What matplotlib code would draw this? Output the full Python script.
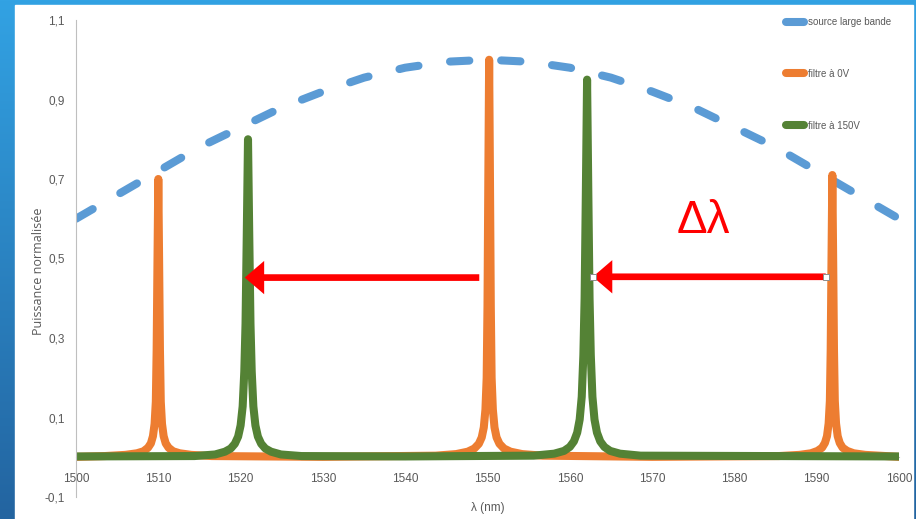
import matplotlib
matplotlib.use('Agg')
import matplotlib.pyplot as plt
import numpy as np
from matplotlib.patches import Rectangle

# broadband source (normalised)
src_x = [1500, 1505, 1510, 1515, 1520, 1525, 1530, 1535, 1540, 1545, 1550,
         1555, 1560, 1565, 1570, 1575, 1580, 1585, 1590, 1595, 1600]
src_y = [0.60, 0.66, 0.72, 0.78, 0.83, 0.88, 0.92, 0.955, 0.98, 0.995, 1.0,
         0.995, 0.98, 0.955, 0.92, 0.88, 0.83, 0.78, 0.72, 0.66, 0.60]

# filter at 0 V
f0_x = [1500,
        1503.5, 1506.0, 1507.4, 1508.2, 1508.75, 1509.1, 1509.35, 1509.55, 1509.7, 1509.8, 1509.9,
        1510.0,
        1510.1, 1510.2, 1510.3, 1510.45, 1510.65, 1510.9, 1511.25, 1511.8, 1512.6, 1514.0, 1516.5,
        1530,
        1543.7, 1546.2, 1547.6, 1548.4, 1548.95, 1549.3, 1549.55, 1549.75, 1549.9, 1550.0, 1550.1,
        1550.2,
        1550.3, 1550.4, 1550.5, 1550.65, 1550.85, 1551.1, 1551.45, 1552.0, 1552.8, 1554.2, 1556.7,
        1570,
        1585.4, 1587.9, 1589.3, 1590.1, 1590.65, 1591.0, 1591.25, 1591.45, 1591.6, 1591.7, 1591.8,
        1591.9,
        1592.0, 1592.1, 1592.2, 1592.35, 1592.55, 1592.8, 1593.15, 1593.7, 1594.5, 1595.9, 1598.4,
        1600]
f0_y = [0.001,
        0.003, 0.006, 0.010, 0.015, 0.024, 0.035, 0.053, 0.084, 0.14, 0.27, 0.49,
        0.70,
        0.49, 0.27, 0.14, 0.084, 0.053, 0.035, 0.024, 0.015, 0.010, 0.006, 0.003,
        0.001,
        0.004, 0.008, 0.014, 0.022, 0.034, 0.05, 0.075, 0.12, 0.2, 0.38, 0.7,
        1.0,
        0.7, 0.38, 0.2, 0.12, 0.075, 0.05, 0.034, 0.022, 0.014, 0.008, 0.004,
        0.001,
        0.003, 0.006, 0.010, 0.016, 0.024, 0.036, 0.053, 0.085, 0.142, 0.27, 0.50,
        0.71,
        0.50, 0.27, 0.142, 0.085, 0.053, 0.036, 0.024, 0.016, 0.010, 0.006, 0.003,
        0.001]

# filter at 150 V
f150_x = [1500,
          1514.4, 1516.9, 1518.1, 1518.8, 1519.3, 1519.7, 1520.0, 1520.25, 1520.45, 1520.6, 1520.75,
          1520.9,
          1521.05, 1521.2, 1521.35, 1521.55, 1521.8, 1522.1, 1522.5, 1523.0, 1523.7, 1524.9, 1527.4,
          1540,
          1555.6, 1558.1, 1559.3, 1560.0, 1560.5, 1560.9, 1561.2, 1561.45, 1561.65, 1561.8, 1561.95,
          1562.1,
          1562.25, 1562.4, 1562.55, 1562.75, 1563.0, 1563.3, 1563.7, 1564.2, 1564.9, 1566.1, 1568.6,
          1600]
f150_y = [0.002,
          0.003, 0.007, 0.014, 0.022, 0.034, 0.052, 0.08, 0.128, 0.216, 0.336, 0.56,
          0.80,
          0.56, 0.336, 0.216, 0.128, 0.08, 0.052, 0.034, 0.022, 0.014, 0.007, 0.003,
          0.002,
          0.004, 0.009, 0.016, 0.026, 0.04, 0.062, 0.095, 0.152, 0.257, 0.40, 0.665,
          0.95,
          0.665, 0.40, 0.257, 0.152, 0.095, 0.062, 0.04, 0.026, 0.016, 0.009, 0.004,
          0.002]

# shift arrows (tail -> head)
arrows = [((1549.0, 0.452), (1520.5, 0.452)),
          ((1591.1, 0.454), (1562.8, 0.454))]

xticks = list(range(1500, 1601, 10))
yticks = [-0.1, 0.1, 0.3, 0.5, 0.7, 0.9, 1.1]
ylabels = ['-0,1', '0,1', '0,3', '0,5', '0,7', '0,9', '1,1']

narrow = ['Liberation Sans Narrow', 'Liberation Sans', 'DejaVu Sans']
grey = '#595959'

fig = plt.figure(figsize=(9.16, 5.19), dpi=100)

# slide background
bg = fig.add_axes([0, 0, 1, 1], zorder=-10)
grad = np.linspace(0, 1, 256).reshape(-1, 1)
cmap = matplotlib.colors.LinearSegmentedColormap.from_list('bg', ['#32a2e3', '#2364a0'])
bg.imshow(grad, aspect='auto', cmap=cmap, extent=[0, 1, 0, 1])
bg.add_patch(Rectangle((15/916, 0), (913-15)/916, (519-5)/519, color='white',
                       transform=bg.transAxes))
bg.set_axis_off()

ax = fig.add_axes([76/916, 1-497/519, (899-76)/916, (497-20)/519])
ax.patch.set_alpha(0)

# spines first (set_position resets the tick labels)
for s in ['top', 'right']:
    ax.spines[s].set_visible(False)
ax.spines['bottom'].set_position(('data', 0))
for s in ['left', 'bottom']:
    ax.spines[s].set_color('#bfbfbf')
    ax.spines[s].set_linewidth(0.8)
ax.spines['bottom'].set_zorder(0)

lw = 5.8
b, = ax.plot(src_x, src_y, color='#5b9bd5', lw=lw, dash_capstyle='round',
             label='source large bande')
b.set_dashes((2.4, 3.95))
o, = ax.plot(f0_x, f0_y, color='#ed7d31', lw=lw, solid_joinstyle='round',
             solid_capstyle='round', label='filtre à 0V')
g, = ax.plot(f150_x, f150_y, color='#548235', lw=lw, solid_joinstyle='round',
             solid_capstyle='round', label='filtre à 150V')

for (tail, head) in arrows:
    ax.annotate('', xy=head, xytext=tail,
                arrowprops=dict(arrowstyle='simple,head_length=14,head_width=24,tail_width=4.8',
                                mutation_scale=1, color='#ff0000', lw=0,
                                shrinkA=0, shrinkB=0))
# selection handles on the second arrow
ax.plot([arrows[1][0][0], arrows[1][1][0]], [arrows[1][0][1], arrows[1][1][1]],
        's', ms=4, mfc='white', mec='#8c8c8c', mew=0.7, zorder=5)

ax.text(1576.2, 0.595, 'Δλ', color='#ff0000', fontsize=33, ha='center', va='center',
        family=narrow)

ax.set_xlim(1500, 1600)
ax.set_ylim(-0.1, 1.1)
ax.set_xticks(xticks)
ax.set_xticklabels([str(t) for t in xticks], family=narrow, fontsize=8.5, color=grey)
ax.set_yticks(yticks)
ax.set_yticklabels(ylabels, family=narrow, fontsize=8.5, color=grey)
ax.tick_params(axis='both', length=0)
ax.tick_params(axis='x', pad=11)
ax.tick_params(axis='y', pad=8)

fig.text(39/916, 1-271/519, 'Puissance normalisée', rotation=90, ha='center', va='center',
         fontsize=9, color=grey, family=['Open Sans', 'DejaVu Sans'])
fig.text(488/916, 1-508/519, 'λ (nm)', ha='center', va='center',
         fontsize=8.5, color=grey, family=narrow)

leg = ax.legend(handles=[b, o, g], loc='upper left', bbox_to_anchor=(786/916, 1-17/519),
                bbox_transform=fig.transFigure, frameon=False,
                handlelength=1.85, handletextpad=0.4, labelspacing=4.3,
                borderpad=0, borderaxespad=0, prop={'family': narrow, 'size': 7})
for t in leg.get_texts():
    t.set_color(grey)

fig.savefig('out.png', dpi=100)
